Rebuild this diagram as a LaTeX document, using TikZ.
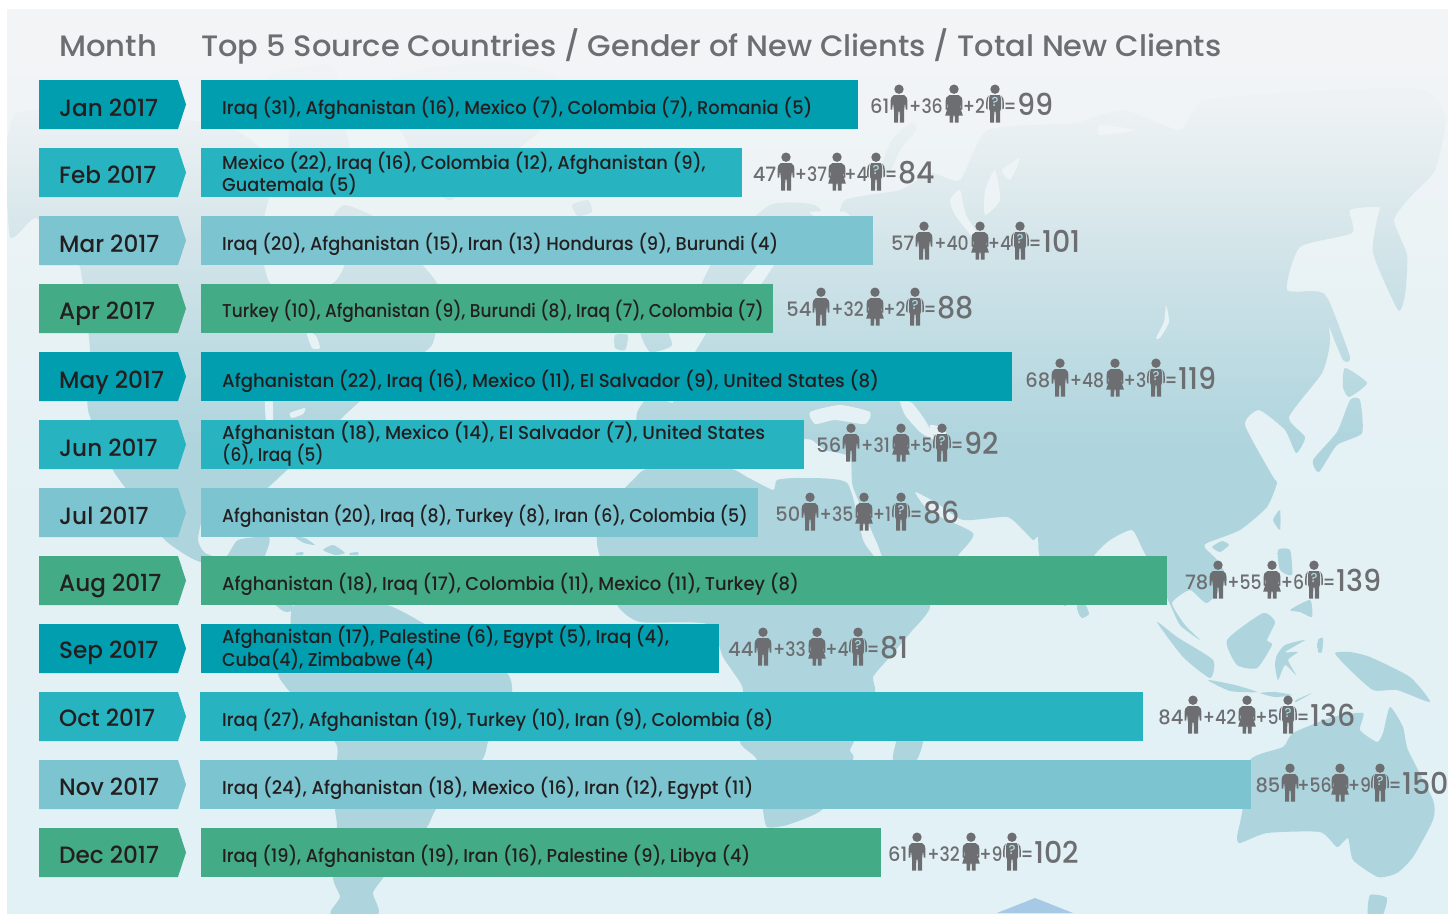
\documentclass[tikz,border=0pt]{standalone}
\usepackage{fontspec}
\setmainfont{Poppins}
\newfontfamily\medfont{Poppins Medium}
\definecolor{barA}{HTML}{009EAF}
\definecolor{barB}{HTML}{28B3C1}
\definecolor{barC}{HTML}{7BC4D0}
\definecolor{barD}{HTML}{44AB87}
\definecolor{inkgrey}{HTML}{6D6E71}
\definecolor{inkdark}{HTML}{231F20}
\definecolor{markq}{HTML}{A9D6DF}
\pgfdeclareverticalshading{landshade}{100bp}{color(0bp)=(rgb,255:red,174;green,212;blue,221);color(25bp)=(rgb,255:red,174;green,212;blue,221);color(50.6bp)=(rgb,255:red,174;green,212;blue,221);color(58.9bp)=(rgb,255:red,200;green,224;blue,230);color(63.3bp)=(rgb,255:red,216;green,231;blue,235);color(67.2bp)=(rgb,255:red,230;green,238;blue,241);color(70bp)=(rgb,255:red,238;green,242;blue,244);color(75bp)=(rgb,255:red,243;green,244;blue,246);color(100bp)=(rgb,255:red,243;green,244;blue,246)}
\pgfdeclareverticalshading{seashade}{100bp}{color(0bp)=(rgb,255:red,226;green,241;blue,245);color(25bp)=(rgb,255:red,226;green,241;blue,245);color(47.8bp)=(rgb,255:red,227;green,241;blue,245);color(59bp)=(rgb,255:red,232;green,242;blue,245);color(70bp)=(rgb,255:red,241;green,244;blue,246);color(75bp)=(rgb,255:red,243;green,244;blue,246);color(100bp)=(rgb,255:red,243;green,244;blue,246)}
\tikzset{
  monthtag/.style={font=\medfont\fontsize{23.6}{24}\selectfont,text=inkdark,anchor=base west,inner sep=0pt},
  bartext/.style={font=\medfont\fontsize{18.6}{22.6}\selectfont,text=inkdark,anchor=base west,inner sep=0pt},
  headtext/.style={font=\medfont\fontsize{29.5}{29}\selectfont,text=inkgrey,anchor=base west,inner sep=0pt},
  statnum/.style={font=\medfont\fontsize{19.8}{20.5}\selectfont,text=inkgrey,inner sep=0pt},
  manicon/.pic={
    \fill[inkgrey] (0,4.7) circle (4.7pt);
    \fill[inkgrey] (-5,10.5) -- (5,10.5) .. controls (7.6,11) and (8.4,14) .. (8.4,18) -- (8.4,25) -- (6.8,25) -- (6,18) -- (5,27) -- (5,38) -- (.9,38) -- (.7,27) -- (-.7,27) -- (-.9,38) -- (-5,38) -- (-5,27) -- (-6,18) -- (-6.8,25) -- (-8.4,25) -- (-8.4,18) .. controls (-8.4,14) and (-7.6,11) .. (-5,10.5) -- cycle;
  },
  womanicon/.pic={
    \fill[inkgrey] (0,4.7) circle (4.7pt);
    \fill[inkgrey] (-4.5,10.5) -- (4.5,10.5) .. controls (7.6,11) and (8.4,14) .. (8.4,18) -- (8.4,25) -- (7.1,25) -- (6,18) -- (6,22) -- (8.8,31) -- (4.5,31) -- (4.5,38) -- (.9,38) -- (.7,31) -- (-.7,31) -- (-.9,38) -- (-4.5,38) -- (-4.5,31) -- (-8.8,31) -- (-6,22) -- (-6,18) -- (-7.1,25) -- (-8.4,25) -- (-8.4,18) .. controls (-8.4,14) and (-7.6,11) .. (-4.5,10.5) -- cycle;
  },
  unknownicon/.pic={
    \fill[inkgrey] (0,4.7) circle (4.7pt);
    \fill[inkgrey] (-5,10.5) -- (5,10.5) -- (6,14) -- (6,24) -- (5,27) -- (5,38) -- (.9,38) -- (.7,27) -- (-.7,27) -- (-.9,38) -- (-5,38) -- (-5,27) -- (-6,24) -- (-6,14) -- cycle;
    \fill[inkgrey] (6.2,11) .. controls (8.4,12.5) and (8.8,15) .. (8.8,18) -- (8.8,24) -- (7.5,25) -- (7.2,15) -- cycle;
    \fill[inkgrey] (-6.2,11) .. controls (-8.4,12.5) and (-8.8,15) .. (-8.8,18) -- (-8.8,24) -- (-7.5,25) -- (-7.2,15) -- cycle;
    \node[font=\medfont\fontsize{13}{13}\selectfont,text=markq,inner sep=0pt] at (0,17) {?};
  }
}
\newcommand\landp[1]{\begin{scope}\clip plot[smooth cycle,tension=.35] coordinates {#1};\shade[shading=landshade] (0,9) rectangle (1448,913);\end{scope}}
\newcommand\seap[1]{\begin{scope}\clip plot[smooth cycle,tension=.35] coordinates {#1};\shade[shading=seashade] (0,9) rectangle (1448,913);\end{scope}}
% name, fill, row top, bar start, bar end, month baseline, month text, text baseline, text ; \rs = width factor of the bar text
\newcommand\monthrow[9]{%
  \fill[#2] (39,#3) -- (178,#3) -- (186,#3+24.5) -- (178,#3+49) -- (39,#3+49) -- cycle;
  \fill[#2] (#4,#3) rectangle (#5,#3+49);
  \node[monthtag] (m#1) at (59,#6) {\scalebox{.98}[1]{#7}};
  \node[bartext] (t#1) at (222,#8) {\scalebox{\rs}[1]{#9}};
}
% name, man x, woman x, unknown x, baseline, men, women, unknown, total
\newcommand\statrow[9]{%
  \pic at (#2,#5-28.5) {manicon};
  \pic at (#3,#5-28.5) {womanicon};
  \pic at (#4,#5-28.5) {unknownicon};
  \node[statnum,anchor=base east] (sa#1) at (#2-9.5,#5) {\scalebox{.98}[1]{#6}};
  \node[statnum,anchor=base] (sb#1) at ({(#2+#3)/2-.5},#5) {\scalebox{.87}[1]{+#7}};
  \node[statnum,anchor=base] (sc#1) at ({(#3+#4)/2-.5},#5) {\scalebox{.87}[1]{+#8}};
  \node[statnum,anchor=base west] (sd#1) at (#4+8.5,#5) {\scalebox{.85}[1]{=}\kern.5pt\raisebox{-2.2pt}{\fontsize{30}{30}\selectfont\scalebox{.95}[1]{#9}}};
}
\begin{document}
\begin{tikzpicture}[x=1pt,y=-1pt]
\useasboundingbox (0,0) rectangle (1448,913);
\fill[white] (0,0) rectangle (1448,913);
\shade[shading=seashade] (7,9) rectangle (1448,913);
\begin{scope}
\clip (7,9) rectangle (1448,913);
% North America
\landp{(7,143) (17,113) (60,110) (110,125) (170,118) (230,128) (262,150) (270,190) (262,230) (270,283) (300,290) (333,283) (345,262) (330,225) (345,205) (390,225) (420,262) (440,290) (432,345) (395,370) (347,413) (320,440) (287,470) (265,490) (240,505) (205,515) (198,540) (205,553) (225,558) (238,540) (269,537) (265,555) (250,570) (293,606) (283,611) (240,575) (195,560) (165,540) (135,500) (113,470) (88,410) (90,350) (80,267) (60,240) (35,218) (10,237)}
\seap{(270,225) (300,215) (340,225) (345,262) (333,283) (300,290) (270,283) (262,250)}
\seap{(265,395) (272,395) (273,420) (266,420)}
\seap{(290,413) (305,408) (303,414) (292,418)}
\seap{(306,330) (316,336) (320,348) (312,348)}
% Arctic islands and Greenland
\landp{(270,75) (330,65) (340,100) (300,120) (268,105)}
\landp{(290,130) (340,120) (350,160) (320,195) (295,180)}
\landp{(345,100) (420,70) (500,62) (560,80) (540,130) (490,170) (450,200) (420,175) (400,130)}
\landp{(572,205) (588,200) (592,212) (578,216)}
% South America
\landp{(293,606) (330,600) (387,605) (423,623) (470,650) (507,673) (512,692) (500,725) (488,742) (482,760) (437,808) (427,827) (395,860) (383,878) (373,893) (378,914) (331,914) (340,897) (333,878) (337,827) (335,808) (337,760) (335,742) (290,692) (278,673) (290,640)}
\landp{(295,537) (305,538) (315,545) (304,543)}
\landp{(323,550) (333,545) (345,553) (335,555)}
\landp{(296,553) (303,552) (303,555) (296,555)}
\landp{(350,553) (358,552) (358,555) (350,555)}
% Africa
\landp{(633,480) (650,468) (727,468) (747,477) (773,490) (777,480) (800,478) (847,483) (863,540) (873,555) (885,575) (930,605) (910,633) (887,660) (873,677) (875,692) (860,730) (850,750) (853,760) (823,809) (787,825) (767,827) (763,810) (757,760) (740,742) (743,690) (733,672) (723,657) (707,624) (640,622) (617,605) (600,557) (597,537) (610,505)}
\landp{(893,760) (900,730) (918,700) (925,705) (923,742) (915,762)}
% Eurasia
\landp{(637,413) (650,395) (673,403) (670,385) (690,360) (715,315) (700,290) (720,250) (770,205) (815,205) (835,228) (845,200) (900,190) (931,173) (960,180) (988,130) (1074,123) (1123,110) (1180,130) (1206,100) (1341,90) (1424,90) (1446,117) (1435,170) (1412,195) (1394,220) (1407,255) (1405,295) (1398,310) (1373,253) (1378,215) (1379,207) (1350,210) (1352,233) (1300,247) (1287,290) (1322,293) (1330,340) (1322,373) (1289,417) (1305,437) (1296,453) (1285,430) (1259,410) (1245,425) (1273,477) (1277,483) (1267,507) (1240,530) (1207,543) (1205,548) (1217,560) (1227,580) (1207,603) (1190,590) (1172,603) (1185,625) (1200,640) (1180,625) (1168,600) (1143,550) (1132,530) (1110,540) (1093,557) (1065,606) (1040,557) (1038,537) (1033,540) (1023,530) (1007,517) (963,520) (937,503) (915,492) (930,512) (973,533) (960,553) (930,585) (890,572) (877,543) (853,487) (850,457) (825,450) (812,440) (800,440) (780,455) (740,430) (700,425) (680,440) (640,432)}
% seas and inlets
\seap{(810,412) (840,405) (870,412) (865,424) (835,420) (815,424)}
\seap{(900,400) (912,403) (925,420) (935,440) (920,432) (905,415)}
\seap{(930,425) (945,428) (945,436) (932,434)}
\seap{(743,283) (760,262) (775,245) (790,240) (772,268) (756,290)}
\seap{(810,212) (845,212) (855,225) (825,222)}
\seap{(950,200) (960,190) (966,215) (985,245) (975,240) (955,215)}
\seap{(985,190) (995,170) (1000,200) (985,215)}
\seap{(1002,170) (1020,158) (1010,180)}
\seap{(1166,305) (1169,322) (1160,338) (1156,338) (1164,322)}
\seap{(1100,125) (1135,130) (1100,135)}
% Novaya Zemlya, British Isles
\landp{(880,170) (892,140) (912,122) (916,130) (900,150) (888,175)}
\landp{(640,330) (660,318) (672,345) (650,352)}
\landp{(615,335) (628,335) (625,350) (615,348)}
% Sakhalin, Japan
\landp{(1322,293) (1330,303) (1350,357) (1343,360) (1328,323)}
\landp{(1345,368) (1367,383) (1349,397) (1343,387)}
\landp{(1350,400) (1360,400) (1362,433) (1337,445) (1319,472) (1313,460) (1337,432)}
% South-east Asia
\landp{(1273,520) (1280,510) (1280,530)}
\landp{(1212,547) (1222,541) (1229,545) (1220,552)}
\landp{(1078,602) (1085,604) (1089,614) (1082,618) (1078,612)}
\landp{(1157,622) (1177,637) (1213,660) (1210,678) (1183,657)}
\landp{(1208,680) (1235,685) (1257,692) (1230,691)}
\landp{(1260,693) (1275,692) (1292,695) (1275,697)}
\landp{(1296,700) (1312,693) (1296,702)}
\landp{(1227,640) (1263,613) (1275,622) (1267,640) (1272,645) (1257,668) (1237,665)}
\landp{(1277,655) (1285,645) (1305,640) (1285,652) (1298,652) (1288,660) (1296,675) (1285,665) (1278,680) (1275,665)}
\landp{(1278,550) (1290,550) (1292,575) (1280,570)}
\landp{(1290,610) (1310,600) (1312,617) (1300,612)}
\landp{(1335,653) (1350,652) (1370,657) (1410,677) (1430,702) (1397,690) (1373,690) (1347,667)}
\landp{(1318,640) (1323,638) (1322,652) (1318,652)}
% Australia
\landp{(1390,707) (1403,727) (1408,750) (1433,800) (1433,820) (1413,857) (1397,873) (1378,877) (1353,860) (1348,838) (1337,847) (1320,832) (1267,833) (1240,843) (1237,837) (1242,813) (1250,760) (1283,747) (1293,733) (1333,717) (1363,713) (1360,730) (1377,742) (1383,733)}
\landp{(1370,895) (1387,898) (1382,916) (1368,916)}
\end{scope}
\fill[color={rgb,255:red,166;green,201;blue,230}] (1035,898) -- (1073,913) -- (997,913) -- cycle;
% header
\node[headtext] (hmonth) at (59,56) {\scalebox{1.04}[1]{Month}};
\node[headtext] (htop) at (201,56) {\scalebox{1.032}[1]{Top 5 Source Countries / Gender of New Clients / Total New Clients}};
% rows
\def\rs{.959}
\monthrow{jan}{barA}{80}{201}{858}{116}{Jan 2017}{114}{Iraq (31), Afghanistan (16), Mexico (7), Colombia (7), Romania (5)}
\def\rs{.962}
\monthrow{feb}{barB}{148}{201}{742}{183}{Feb 2017}{169}{Mexico (22), Iraq (16), Colombia (12), Afghanistan (9),}
\node[bartext] (tfebb) at (222,191) {\scalebox{.95}[1]{Guatemala (5)}};
\def\rs{.954}
\monthrow{mar}{barC}{216}{201}{873}{252}{Mar 2017}{250}{Iraq (20), Afghanistan (15), Iran (13) Honduras (9), Burundi (4)}
\def\rs{.911}
\monthrow{apr}{barD}{284}{201}{773}{319}{Apr 2017}{317}{Turkey (10), Afghanistan (9), Burundi (8), Iraq (7), Colombia (7)}
\def\rs{.975}
\monthrow{may}{barA}{352}{201}{1012}{388}{May 2017}{387}{Afghanistan (22), Iraq (16), Mexico (11), El Salvador (9), United States (8)}
\def\rs{.984}
\monthrow{jun}{barB}{420}{201}{804}{456}{Jun 2017}{439}{Afghanistan (18), Mexico (14), El Salvador (7), United States}
\node[bartext] (tjunb) at (222,461) {\scalebox{.91}[1]{(6), Iraq (5)}};
\def\rs{.929}
\monthrow{jul}{barC}{488}{201}{758}{524}{Jul 2017}{522}{Afghanistan (20), Iraq (8), Turkey (8), Iran (6), Colombia (5)}
\def\rs{.966}
\monthrow{aug}{barD}{556}{201}{1167}{591}{Aug 2017}{590}{Afghanistan (18), Iraq (17), Colombia (11), Mexico (11), Turkey (8)}
\def\rs{.957}
\monthrow{sep}{barA}{624}{201}{719}{658}{Sep 2017}{643}{Afghanistan (17), Palestine (6), Egypt (5), Iraq (4),}
\node[bartext] (tsepb) at (222,666) {\scalebox{.94}[1]{Cuba(4), Zimbabwe (4)}};
\def\rs{.955}
\monthrow{oct}{barB}{692}{200}{1143}{726}{Oct 2017}{726}{Iraq (27), Afghanistan (19), Turkey (10), Iran (9), Colombia (8)}
\def\rs{.969}
\monthrow{nov}{barC}{760}{200}{1251}{795}{Nov 2017}{794}{Iraq (24), Afghanistan (18), Mexico (16), Iran (12), Egypt (11)}
\def\rs{.953}
\monthrow{dec}{barD}{828}{201}{881}{863}{Dec 2017}{862}{Iraq (19), Afghanistan (19), Iran (16), Palestine (9), Libya (4)}
% totals
\statrow{jan}{899}{954}{995}{113}{61}{36}{2}{99}
\statrow{feb}{786}{837}{876}{181}{47}{37}{4}{84}
\statrow{mar}{924}{980}{1020}{250}{57}{40}{4}{101}
\statrow{apr}{821}{875}{915}{316}{54}{32}{2}{88}
\statrow{may}{1060}{1115}{1156}{387}{68}{48}{3}{119}
\statrow{jun}{851}{901}{942}{452}{56}{31}{5}{92}
\statrow{jul}{810}{864}{901}{521}{50}{35}{1}{86}
\statrow{aug}{1218}{1272}{1314}{589}{78}{55}{6}{139}
\statrow{sep}{763}{817}{858}{656}{44}{33}{4}{81}
\statrow{oct}{1193}{1247}{1288}{724}{84}{42}{5}{136}
\statrow{nov}{1290}{1340}{1380}{792}{85}{56}{9}{150}
\statrow{dec}{917}{971}{1012}{861}{61}{32}{9}{102}
\end{tikzpicture}
\end{document}
